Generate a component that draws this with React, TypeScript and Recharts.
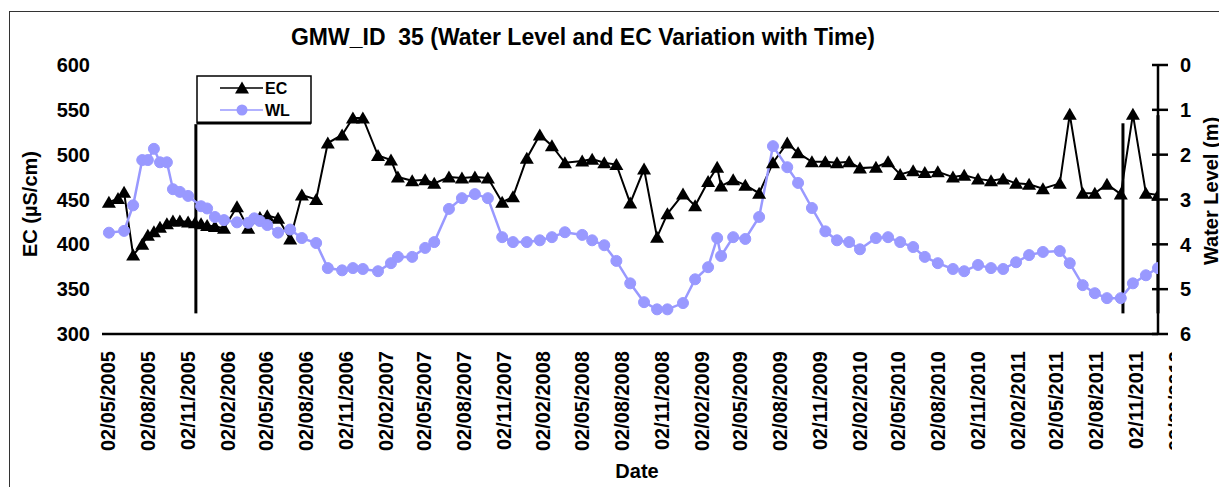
import React from 'react';
import { LineChart, Line, XAxis, YAxis, ReferenceLine } from 'recharts';

// sampling dates (shared by EC and water level readings)
const sampleDates = [
  '2005-05-04', '2005-05-25', '2005-06-08', '2005-06-29', '2005-07-20', '2005-08-02',
  '2005-08-16', '2005-08-30', '2005-09-15', '2005-09-29', '2005-10-15', '2005-11-03',
  '2005-11-19', '2005-12-03', '2005-12-17', '2006-01-04', '2006-01-25', '2006-02-24',
  '2006-03-22', '2006-04-05', '2006-04-18', '2006-05-05', '2006-05-30', '2006-06-27',
  '2006-07-24', '2006-08-26', '2006-09-22', '2006-10-25', '2006-11-19', '2006-12-12',
  '2007-01-16', '2007-02-15', '2007-03-03', '2007-04-05', '2007-05-05', '2007-05-26',
  '2007-06-29', '2007-07-29', '2007-08-28', '2007-09-27', '2007-10-30', '2007-11-24',
  '2007-12-26', '2008-01-25', '2008-02-22', '2008-03-23', '2008-05-02', '2008-05-25',
  '2008-06-22', '2008-07-20', '2008-08-21', '2008-09-22', '2008-10-22', '2008-11-15',
  '2008-12-21', '2009-01-18', '2009-02-17', '2009-03-10', '2009-03-19', '2009-04-16',
  '2009-05-14', '2009-06-15', '2009-07-17', '2009-08-19', '2009-09-13', '2009-10-15',
  '2009-11-15', '2009-12-12', '2010-01-09', '2010-02-03', '2010-03-12', '2010-04-09',
  '2010-05-07', '2010-06-06', '2010-07-03', '2010-08-02', '2010-09-06', '2010-10-02',
  '2010-11-03', '2010-12-03', '2010-12-31', '2011-01-30', '2011-03-01', '2011-04-02',
  '2011-05-11', '2011-06-03', '2011-07-03', '2011-07-31', '2011-08-28', '2011-09-29',
  '2011-10-27', '2011-11-26', '2011-12-24',
];

// EC in µS/cm
const ecValues = [
  447, 451, 458, 388, 400, 410,
  414, 419, 423, 426, 426, 425,
  424, 423, 421, 420, 418, 442,
  418, null, 430, 432, 429, 406,
  455, 450, 513, 522, 541, 541,
  499, 494, 475, 471, 472, 468,
  475, 474, 475, 474, 447, 453,
  496, 522, 510, 491, 493, 495,
  491, 489, 446, 484, 408, 434,
  456, 443, 470, 486, 465, 472,
  466, 457, 491, 513, 502, 492,
  492, 491, 492, 485, 486, 492,
  478, 482, 480, 481, 475, 477,
  473, 471, 473, 468, 467, 462,
  468, 545, 457, 457, 467, 456,
  545, 457, 455,
];

// water level in m below ground
const wlValues = [
  3.74, null, 3.7, 3.13, 2.12, 2.12,
  1.87, 2.17, 2.17, 2.77, 2.83, 2.92,
  null, 3.15, 3.2, 3.39, 3.46, 3.51,
  3.52, 3.42, 3.48, 3.57, 3.74, 3.67,
  3.86, 3.97, 4.53, 4.58, 4.53, 4.55,
  4.6, 4.42, 4.28, 4.28, 4.08, 3.95,
  3.21, 2.97, 2.88, 2.97, 3.84, 3.95,
  3.95, 3.91, 3.84, 3.73, 3.79, 3.91,
  4.02, 4.37, 4.87, 5.29, 5.45, 5.45,
  5.31, 4.78, 4.51, 3.86, 4.26, 3.84,
  3.88, 3.39, 1.81, 2.28, 2.63, 3.19,
  3.71, 3.91, 3.95, 4.11, 3.86, 3.84,
  3.95, 4.06, 4.28, 4.42, 4.55, 4.6,
  4.46, 4.53, 4.55, 4.4, 4.24, 4.17,
  4.15, 4.42, 4.91, 5.09, 5.2, 5.2,
  4.87, 4.69, 4.53,
];

const tickDates = [
  '2005-05-02', '2005-08-02', '2005-11-02', '2006-02-02', '2006-05-02', '2006-08-02',
  '2006-11-02', '2007-02-02', '2007-05-02', '2007-08-02', '2007-11-02', '2008-02-02',
  '2008-05-02', '2008-08-02', '2008-11-02', '2009-02-02', '2009-05-02', '2009-08-02',
  '2009-11-02', '2010-02-02', '2010-05-02', '2010-08-02', '2010-11-02', '2011-02-02',
  '2011-05-02', '2011-08-02', '2011-11-02', '2012-02-02',
];
const dateRange = ['2005-04-18', '2011-12-24'];
const ecTicks = [300, 350, 400, 450, 500, 550, 600];
const wlTicks = [0, 1, 2, 3, 4, 5, 6];

// stray vertical lines drawn on the original sheet
const strayLines = [
  { date: '2005-11-21', from: 534, to: 323 },
  { date: '2011-10-04', from: 535, to: 323 },
  { date: '2011-12-24', from: 544, to: 323 },
];

const toTime = (d: string) => new Date(d + 'T00:00:00Z').getTime();
const pad = (n: number) => (n < 10 ? '0' + n : '' + n);
const fmtDate = (t: number) => {
  const d = new Date(t);
  return `${pad(d.getUTCDate())}/${pad(d.getUTCMonth() + 1)}/${d.getUTCFullYear()}`;
};

const chartData = sampleDates.map((d, i) => ({
  t: toTime(d),
  ec: ecValues[i],
  wl: wlValues[i],
}));

const FONT = "'Liberation Sans', Arial, sans-serif";
const WL_COLOR = '#9999ff';

const Triangle = (props: any) => {
  const { cx, cy, index } = props;
  if (cx == null || cy == null) return <g key={`tri-${index}`} />;
  return (
    <path
      key={`tri-${index}`}
      d={`M${cx},${cy - 6.5}L${cx + 7},${cy + 5.5}L${cx - 7},${cy + 5.5}Z`}
      fill='#000'
    />
  );
};

const DateTick = (props: any) => {
  const { x, y, payload, index } = props;
  return (
    <g clipPath={`url(#xlab-${index})`}>
      <defs>
        <clipPath id={`xlab-${index}`}>
          <rect x={0} y={0} width={1172} height={495} />
        </clipPath>
      </defs>
      <g transform={`translate(${x},${y})`}>
        <text
          transform='rotate(-90)'
          textAnchor='end'
          dy='0.36em'
          fontSize={20}
          fontWeight='bold'
          fontFamily={FONT}
          fill='#000'
        >
          {fmtDate(payload.value)}
        </text>
      </g>
    </g>
  );
};

const WlTick = (props: any) => {
  const { x, y, payload } = props;
  return (
    <g>
      <line x1={x - 28} x2={x - 12} y1={y} y2={y} stroke='#000' strokeWidth={2.5} />
      <text
        x={x}
        y={y}
        dy='0.36em'
        textAnchor='start'
        fontSize={20}
        fontWeight='bold'
        fontFamily={FONT}
        fill='#000'
      >
        {payload.value}
      </text>
    </g>
  );
};

const textStyle: React.CSSProperties = {
  position: 'absolute',
  fontFamily: FONT,
  fontWeight: 'bold',
  fontSize: 20,
  color: '#000',
  whiteSpace: 'pre',
  lineHeight: 1,
};

export default function App() {
  return (
    <div
      style={{
        position: 'relative',
        width: 1227,
        height: 495,
        margin: -8,
        overflow: 'hidden',
        background: '#fff',
      }}
    >
      <div
        style={{
          position: 'absolute',
          left: 9,
          top: 11,
          width: 1400,
          height: 700,
          border: '1.5px solid #333',
        }}
      />
      <div style={{ position: 'absolute', left: 0, top: 0 }}>
        <LineChart
          width={1227}
          height={495}
          data={chartData}
          margin={{ top: 65, right: 9, bottom: 41, left: 10 }}
        >
          <XAxis
            dataKey='t'
            type='number'
            scale='linear'
            domain={dateRange.map(toTime)}
            allowDataOverflow
            ticks={tickDates.map(toTime)}
            interval={0}
            height={120}
            tickLine={false}
            tickSize={0}
            tickMargin={17}
            axisLine={{ stroke: '#000', strokeWidth: 2.5 }}
            tick={<DateTick />}
          />
          <YAxis
            yAxisId='ec'
            orientation='left'
            domain={[300, 600]}
            ticks={ecTicks}
            interval={0}
            width={92}
            axisLine={false}
            tickLine={false}
            tickSize={0}
            tickMargin={12}
            tick={{ fontSize: 20, fontWeight: 'bold', fontFamily: FONT, fill: '#000' }}
          />
          <YAxis
            yAxisId='wl'
            orientation='right'
            domain={[0, 6]}
            reversed
            ticks={wlTicks}
            interval={0}
            width={60}
            axisLine={{ stroke: '#000', strokeWidth: 2.5 }}
            tickLine={false}
            tickSize={0}
            tickMargin={22}
            tick={<WlTick />}
          />
          {strayLines.map((s, i) => (
            <ReferenceLine
              key={`stray-${i}`}
              yAxisId='ec'
              segment={[
                { x: toTime(s.date), y: s.from },
                { x: toTime(s.date), y: s.to },
              ]}
              stroke='#000'
              strokeWidth={3}
              ifOverflow='visible'
            />
          ))}
          <Line
            yAxisId='ec'
            dataKey='ec'
            stroke='#000'
            strokeWidth={2}
            dot={Triangle}
            activeDot={false}
            connectNulls
            isAnimationActive={false}
          />
          <Line
            yAxisId='wl'
            dataKey='wl'
            stroke={WL_COLOR}
            strokeWidth={2.5}
            dot={{ r: 5.5, fill: WL_COLOR, stroke: WL_COLOR, strokeWidth: 1 }}
            activeDot={false}
            connectNulls
            isAnimationActive={false}
          />
        </LineChart>
      </div>

      <div
        style={{ ...textStyle, fontSize: 23, left: 583, top: 26, transform: 'translateX(-50%)' }}
      >
        {'GMW_ID  35 (Water Level and EC Variation with Time)'}
      </div>
      <div
        style={{
          ...textStyle,
          left: 30,
          top: 204,
          transform: 'translate(-50%, -50%) rotate(-90deg)',
        }}
      >
        EC (µS/cm)
      </div>
      <div
        style={{
          ...textStyle,
          left: 1211,
          top: 191,
          transform: 'translate(-50%, -50%) rotate(-90deg)',
        }}
      >
        Water Level (m)
      </div>
      <div style={{ ...textStyle, left: 637, top: 471, transform: 'translate(-50%, -50%)' }}>
        Date
      </div>

      <svg
        width={116}
        height={50}
        style={{ position: 'absolute', left: 196, top: 75 }}
      >
        <rect x={1} y={1} width={114} height={47} fill='#fff' stroke='#000' strokeWidth={1.5} />
        <line x1={1} x2={115} y1={48} y2={48} stroke='#000' strokeWidth={3} />
        <line x1={24} x2={67} y1={13} y2={13} stroke='#000' strokeWidth={1.5} />
        <path d='M46,6.5L53,18.5L39,18.5Z' fill='#000' />
        <text x={69} y={13} dy='0.36em' fontSize={16} fontWeight='bold' fontFamily={FONT}>
          EC
        </text>
        <line x1={24} x2={67} y1={35} y2={35} stroke={WL_COLOR} strokeWidth={1.5} />
        <circle cx={46} cy={35} r={5.5} fill={WL_COLOR} />
        <text x={69} y={35} dy='0.36em' fontSize={16} fontWeight='bold' fontFamily={FONT}>
          WL
        </text>
      </svg>
    </div>
  );
}
